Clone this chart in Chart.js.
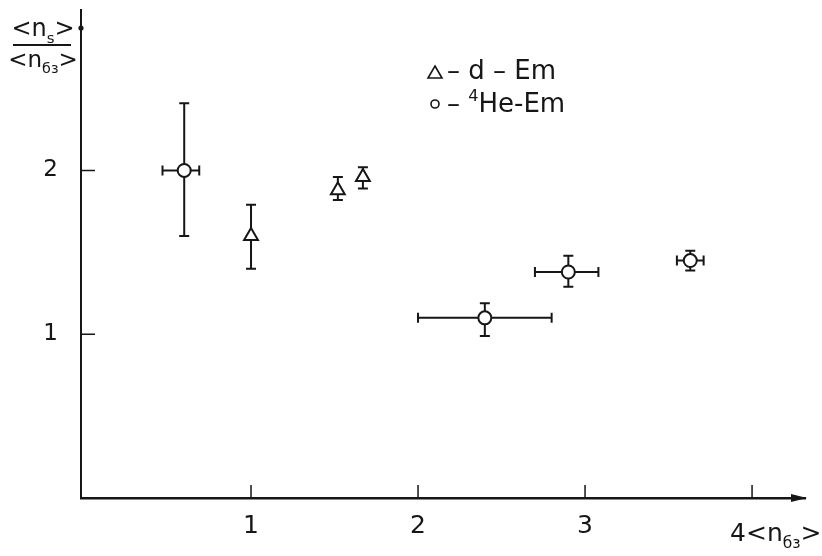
<!DOCTYPE html>
<html>
<head>
<meta charset="utf-8">
<script src="https://cdn.jsdelivr.net/npm/chart.js@4.4.1/dist/chart.umd.min.js"></script>
<style>
  html, body { margin: 0; padding: 0; background: #fff; }
  #wrap { width: 822px; height: 556px; }
</style>
</head>
<body>
<div id="wrap"><canvas id="ratioChart"></canvas></div>
<script>
// <ns>/<nбз> versus <nбз>
const xTicks = [1, 2, 3, 4];
const yTicks = [1, 2];

// d - Em
const dX = [1.0, 1.52, 1.67];
const dY = [1.6, 1.88, 1.96];
const dYLow = [1.4, 1.82, 1.89];
const dYHigh = [1.79, 1.96, 2.02];

// 4He - Em
const heX = [0.6, 2.4, 2.9, 3.63];
const heY = [2.0, 1.1, 1.38, 1.45];
const heXLow = [0.47, 2.0, 2.7, 3.55];
const heXHigh = [0.69, 2.8, 3.08, 3.71];
const heYLow = [1.6, 0.99, 1.29, 1.39];
const heYHigh = [2.41, 1.19, 1.48, 1.51];

const INK = "#161616";
const FONT = "'DejaVu Sans', sans-serif";

const dPoints = dX.map((x, i) => ({ x, y: dY[i], yMin: dYLow[i], yMax: dYHigh[i] }));
const hePoints = heX.map((x, i) => ({
    x, y: heY[i],
    xMin: heXLow[i], xMax: heXHigh[i],
    yMin: heYLow[i], yMax: heYHigh[i],
}));

// text with sub/superscript pieces, drawn left to right
function drawRich(ctx, parts, x, y, size, align) {
    const widths = parts.map(p => {
        ctx.font = `${p.sub || p.sup ? size * 0.62 : size}px ${FONT}`;
        return ctx.measureText(p.t).width;
    });
    const total = widths.reduce((a, b) => a + b, 0);
    let cx = align === "center" ? x - total / 2 : x;
    parts.forEach((p, i) => {
        ctx.font = `${p.sub || p.sup ? size * 0.62 : size}px ${FONT}`;
        let dy = 0;
        if (p.sub) dy = size * 0.28;
        if (p.sup) dy = -size * 0.42;
        ctx.fillText(p.t, cx, y + dy);
        cx += widths[i];
    });
}

const errorBars = {
    id: "errorBars",
    beforeDatasetsDraw(chart) {
        const { ctx, scales: { x, y } } = chart;
        const cap = 5;
        ctx.save();
        ctx.strokeStyle = INK;
        ctx.lineWidth = 2;
        chart.data.datasets.forEach(ds => {
            ds.data.forEach(p => {
                const px = x.getPixelForValue(p.x);
                const py = y.getPixelForValue(p.y);
                ctx.beginPath();
                if (p.yMin != null) {
                    const y1 = y.getPixelForValue(p.yMin);
                    const y2 = y.getPixelForValue(p.yMax);
                    ctx.moveTo(px, y1); ctx.lineTo(px, y2);
                    ctx.moveTo(px - cap, y1); ctx.lineTo(px + cap, y1);
                    ctx.moveTo(px - cap, y2); ctx.lineTo(px + cap, y2);
                }
                if (p.xMin != null) {
                    const x1 = x.getPixelForValue(p.xMin);
                    const x2 = x.getPixelForValue(p.xMax);
                    ctx.moveTo(x1, py); ctx.lineTo(x2, py);
                    ctx.moveTo(x1, py - cap); ctx.lineTo(x1, py + cap);
                    ctx.moveTo(x2, py - cap); ctx.lineTo(x2, py + cap);
                }
                ctx.stroke();
            });
        });
        ctx.restore();
    },
};

const axisDecor = {
    id: "axisDecor",
    afterDraw(chart) {
        const { ctx, chartArea: area, scales: { x, y } } = chart;
        ctx.save();
        ctx.strokeStyle = INK;
        ctx.fillStyle = INK;
        ctx.lineWidth = 1.5;

        // inward tick marks
        ctx.beginPath();
        xTicks.forEach(v => {
            const px = x.getPixelForValue(v);
            ctx.moveTo(px, area.bottom); ctx.lineTo(px, area.bottom - 13);
        });
        yTicks.forEach(v => {
            const py = y.getPixelForValue(v);
            ctx.moveTo(area.left, py); ctx.lineTo(area.left + 14, py);
        });
        ctx.stroke();

        // arrow at the end of the x axis
        ctx.beginPath();
        ctx.moveTo(area.right + 2, area.bottom);
        ctx.lineTo(area.right - 14, area.bottom - 4);
        ctx.lineTo(area.right - 14, area.bottom + 4);
        ctx.closePath();
        ctx.fill();

        // small mark near the top of the y axis
        ctx.beginPath();
        ctx.arc(area.left, area.top + 18, 2.6, 0, Math.PI * 2);
        ctx.fill();

        ctx.textBaseline = "alphabetic";

        // y title as a fraction
        drawRich(ctx, [{ t: "<n" }, { t: "s", sub: true }, { t: ">" }], 43, 36, 24, "center");
        ctx.lineWidth = 2;
        ctx.beginPath();
        ctx.moveTo(13, 45); ctx.lineTo(71, 45);
        ctx.stroke();
        drawRich(ctx, [{ t: "<n" }, { t: "бз", sub: true }, { t: ">" }], 43, 67, 23, "center");

        // last x tick label joined with the axis title
        const p4 = x.getPixelForValue(4);
        drawRich(ctx, [{ t: "4" }, { t: "<n" }, { t: "бз", sub: true }, { t: ">" }], p4 - 22, 541, 25, "left");

        // legend
        ctx.lineWidth = 1.6;
        ctx.beginPath();
        ctx.moveTo(435, 66); ctx.lineTo(442, 78); ctx.lineTo(428, 78); ctx.closePath();
        ctx.stroke();
        ctx.beginPath();
        ctx.arc(435, 104, 4, 0, Math.PI * 2);
        ctx.stroke();
        drawRich(ctx, [{ t: "– d – Em" }], 447, 79, 26, "left");
        drawRich(ctx, [{ t: "– " }, { t: "4", sup: true }, { t: "He-Em" }], 447, 112, 26, "left");

        ctx.restore();
    },
};

const config = {
    type: "scatter",
    data: {
        datasets: [
            {
                label: "d - Em",
                data: dPoints,
                pointStyle: "triangle",
                pointRadius: 8,
                pointBorderWidth: 2,
                pointBackgroundColor: "#fff",
                pointBorderColor: INK,
            },
            {
                label: "4He - Em",
                data: hePoints,
                pointStyle: "circle",
                pointRadius: 6.5,
                pointBorderWidth: 2,
                pointBackgroundColor: "#fff",
                pointBorderColor: INK,
            },
        ],
    },
    options: {
        responsive: true,
        maintainAspectRatio: false,
        animation: false,
        layout: { padding: { top: 10, right: 17, left: 0, bottom: 0 } },
        plugins: {
            legend: { display: false },
            tooltip: { enabled: false },
        },
        scales: {
            x: {
                type: "linear",
                min: -0.018,
                max: 4.317,
                afterBuildTicks: s => { s.ticks = xTicks.map(v => ({ value: v })); },
                afterFit: s => {
                    s.height = 58;
                    s.paddingLeft = 0;
                    s.paddingRight = 0;
                },
                grid: { display: false, drawTicks: false },
                border: { display: true, color: INK, width: 2.5 },
                ticks: {
                    color: INK,
                    padding: 13,
                    font: { family: FONT, size: 25 },
                    callback: v => (v === 4 ? "" : v),
                },
            },
            y: {
                min: 0,
                max: 2.98,
                afterBuildTicks: s => { s.ticks = yTicks.map(v => ({ value: v })); },
                afterFit: s => {
                    s.width = 81;
                    s.paddingTop = 0;
                    s.paddingBottom = 0;
                },
                grid: { display: false, drawTicks: false },
                border: { display: true, color: INK, width: 2 },
                ticks: {
                    color: INK,
                    padding: 23,
                    font: { family: FONT, size: 23 },
                },
            },
        },
    },
    plugins: [errorBars, axisDecor],
};

const ctx = document.getElementById("ratioChart").getContext("2d");
const ratioChart = new Chart(ctx, config);
</script>
</body>
</html>
